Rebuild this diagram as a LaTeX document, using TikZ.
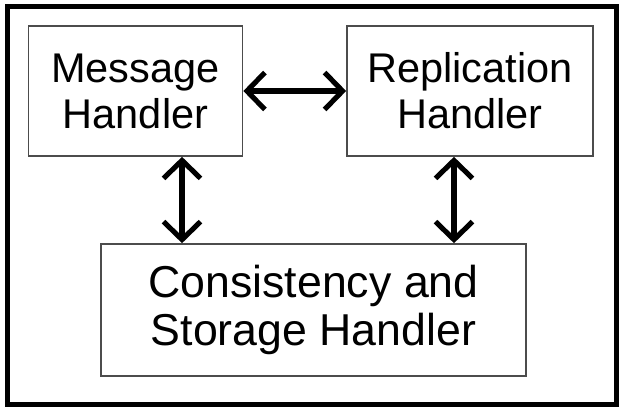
\documentclass[tikz,border=0pt]{standalone}
\usepackage{fontspec}
\setmainfont{Liberation Sans}
\usetikzlibrary{arrows.meta}
\begin{document}
\begin{tikzpicture}[
  x=0.01cm,y=-0.01cm,
  frame/.style={draw, line width=1.15pt},
  handler/.style={draw=black!70, line width=0.45pt, fill=white, align=center, inner sep=0pt, font=\fontsize{11.8}{13.1}\selectfont},
  bighandler/.style={handler, font=\fontsize{12.7}{13.9}\selectfont},
  link/.style={line width=1.45pt, {Straight Barb[length=1.8mm,width=3.7mm]}-{Straight Barb[length=1.8mm,width=3.7mm]}}
]
\useasboundingbox (0,0) rectangle (624,412);
\draw[frame] (7.5,6.5) rectangle (616.5,404.5);

\node[handler, minimum width=2.14cm, minimum height=1.3cm] (msg) at (135.5,91) {Message\\Handler};
\node[handler, minimum width=2.46cm, minimum height=1.3cm] (rep) at (470,91) {Replication\\Handler};
\node[bighandler, minimum width=4.25cm, minimum height=1.32cm] (store) at (313.5,310) {Consistency and\\Storage Handler};

\draw[link] (msg.east) -- (rep.west);
\draw[link] ([xshift=4.65mm]msg.south) -- ([xshift=4.65mm]msg.south |- store.north);
\draw[link] ([xshift=-1.6mm]rep.south) -- ([xshift=-1.6mm]rep.south |- store.north);
\end{tikzpicture}
\end{document}
